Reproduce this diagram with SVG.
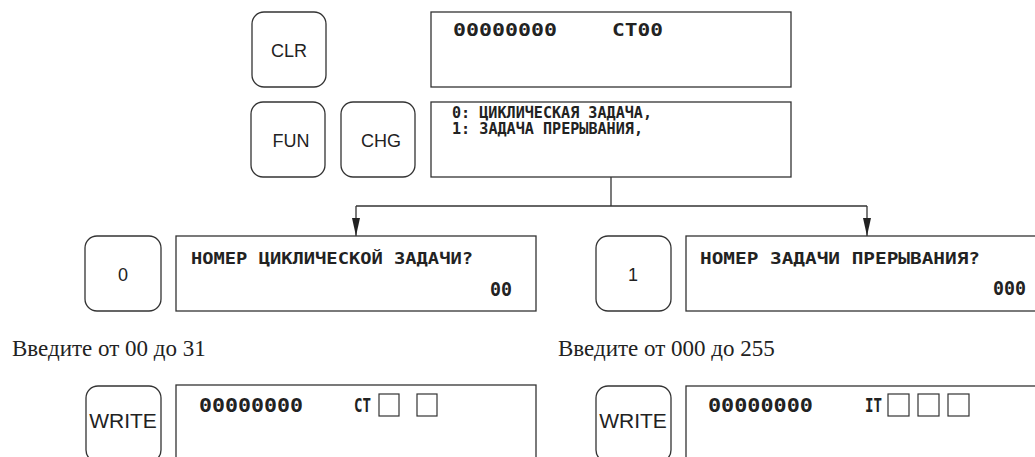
<svg xmlns="http://www.w3.org/2000/svg" width="1035" height="457" viewBox="0 0 1035 457">
<style>
.key{fill:#fff;stroke:#333;stroke-width:1.3}
.disp{fill:#fff;stroke:#333;stroke-width:1.3}
.kt{font-family:"Liberation Sans",Arial,sans-serif;font-size:18px;fill:#222;text-anchor:middle}
.lcd{font-family:"DejaVu Sans Mono","Liberation Mono",monospace;font-weight:bold;fill:#222}
.note{font-family:"Liberation Serif","Times New Roman",serif;font-size:23px;fill:#222}
.sq{fill:#fff;stroke:#333;stroke-width:1.2}
.conn{fill:none;stroke:#333;stroke-width:1.3}
</style>
<defs>
<marker id="arr" viewBox="0 0 18 8" refX="18" refY="4" markerWidth="18" markerHeight="8" markerUnits="userSpaceOnUse" orient="auto">
<path d="M0,0 L18,4 L0,8 Z" fill="#222"/>
</marker>
</defs>
<rect width="1035" height="457" fill="#fff"/>

<g id="key-clr"><rect class="key" x="252" y="12" width="74" height="75" rx="12"/><text class="kt" x="289" y="57">CLR</text></g>
<g id="disp-top"><rect class="disp" x="431" y="12" width="360" height="75"/>
<text class="lcd" x="453" y="36" font-size="18" textLength="104" lengthAdjust="spacingAndGlyphs">00000000</text>
<text class="lcd" x="612" y="36" font-size="18" textLength="51" lengthAdjust="spacingAndGlyphs">CT00</text></g>

<g id="key-fun"><rect class="key" x="251" y="102" width="74" height="75" rx="12"/><text class="kt" x="291" y="147">FUN</text></g>
<g id="key-chg"><rect class="key" x="341" y="102" width="74" height="75" rx="12"/><text class="kt" x="381" y="147">CHG</text></g>
<g id="disp-menu"><rect class="disp" x="431" y="102" width="360" height="75"/>
<text class="lcd" x="452" y="118" font-size="15" textLength="200" lengthAdjust="spacingAndGlyphs">0: ЦИКЛИЧЕСКАЯ ЗАДАЧА,</text>
<text class="lcd" x="452" y="134" font-size="15" textLength="191" lengthAdjust="spacingAndGlyphs">1: ЗАДАЧА ПРЕРЫВАНИЯ,</text></g>

<g id="connectors">
<path class="conn" d="M611,177 V206"/>
<path class="conn" d="M356,206 H867"/>
<path class="conn" d="M356,206 V236" marker-end="url(#arr)"/>
<path class="conn" d="M867,206 V236" marker-end="url(#arr)"/>
</g>

<g id="key-0"><rect class="key" x="85" y="236" width="76" height="75" rx="12"/><text class="kt" x="123" y="281">0</text></g>
<g id="disp-cyc"><rect class="disp" x="176" y="236" width="360" height="75"/>
<text class="lcd" x="191" y="264" font-size="16" textLength="282" lengthAdjust="spacingAndGlyphs">НОМЕР ЦИКЛИЧЕСКОЙ ЗАДАЧИ?</text>
<text class="lcd" x="490" y="296" font-size="19" textLength="22" lengthAdjust="spacingAndGlyphs">00</text></g>

<g id="key-1"><rect class="key" x="596" y="236" width="75" height="75" rx="12"/><text class="kt" x="633" y="281">1</text></g>
<g id="disp-int"><rect class="disp" x="686" y="236" width="360" height="75"/>
<text class="lcd" x="700" y="264" font-size="16" textLength="280" lengthAdjust="spacingAndGlyphs">НОМЕР ЗАДАЧИ ПРЕРЫВАНИЯ?</text>
<text class="lcd" x="993" y="295" font-size="19" textLength="33" lengthAdjust="spacingAndGlyphs">000</text></g>

<text class="note" x="12" y="356">Введите от 00 до 31</text>
<text class="note" x="558" y="356">Введите от 000 до 255</text>

<g id="key-write-1"><rect class="key" x="86" y="386" width="75" height="76" rx="12"/><text class="kt" x="123" y="428" style="font-size:21px">WRITE</text></g>
<g id="disp-ct"><rect class="disp" x="176" y="385" width="360" height="80"/>
<text class="lcd" x="199" y="412" font-size="19" textLength="104" lengthAdjust="spacingAndGlyphs">00000000</text>
<text class="lcd" x="354" y="412" font-size="19" textLength="17" lengthAdjust="spacingAndGlyphs">CT</text>
<rect class="sq" x="379" y="394" width="20" height="22"/>
<rect class="sq" x="417" y="394" width="20" height="22"/></g>

<g id="key-write-2"><rect class="key" x="596" y="386" width="75" height="76" rx="12"/><text class="kt" x="633" y="428" style="font-size:21px">WRITE</text></g>
<g id="disp-it"><rect class="disp" x="686" y="386" width="360" height="80"/>
<text class="lcd" x="708" y="412" font-size="19" textLength="105" lengthAdjust="spacingAndGlyphs">00000000</text>
<text class="lcd" x="865" y="412" font-size="19" textLength="17" lengthAdjust="spacingAndGlyphs">IT</text>
<rect class="sq" x="888" y="394" width="21" height="22"/>
<rect class="sq" x="918" y="394" width="21" height="22"/>
<rect class="sq" x="948" y="394" width="21" height="22"/></g>
</svg>
